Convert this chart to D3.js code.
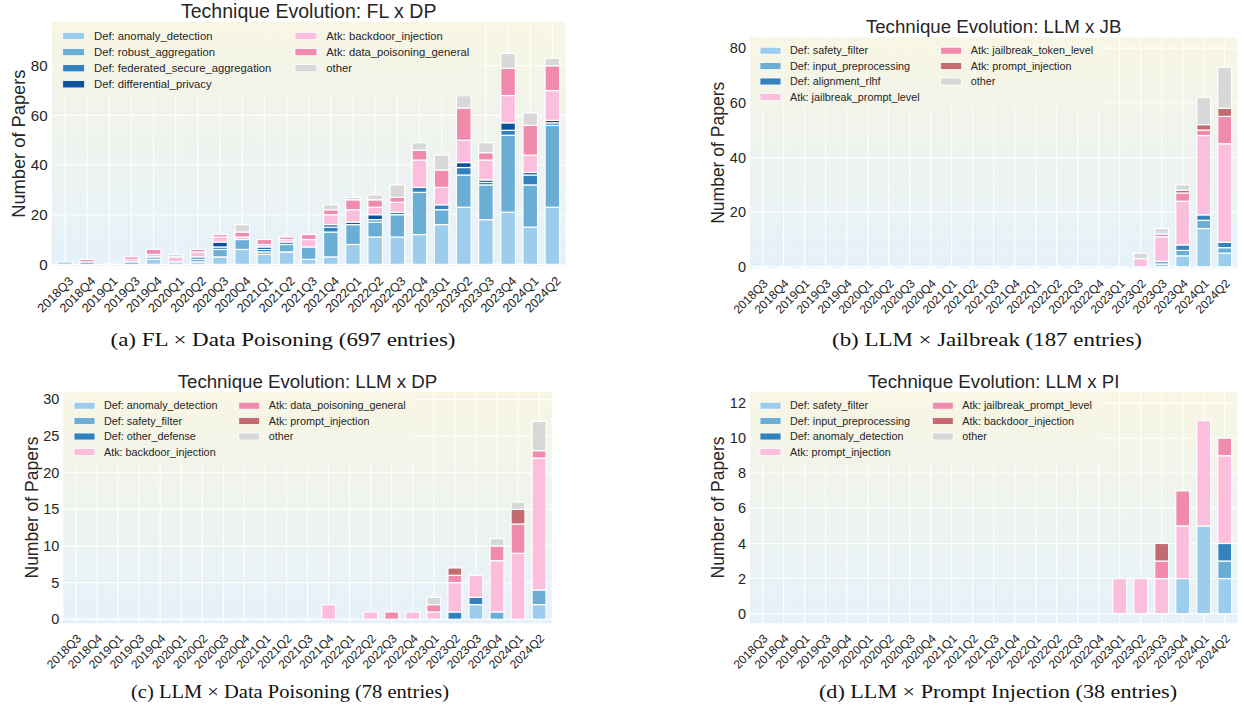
<!DOCTYPE html>
<html>
<head>
<meta charset="utf-8">
<script src="https://cdn.jsdelivr.net/npm/d3@7"></script>
<style>
  body { margin: 0; background: #fff; }
  svg { display: block; }
  text { font-family: "Liberation Sans", Arial, sans-serif; fill: #262626; }
  .cap { font-family: "Liberation Serif", "DejaVu Serif", serif; fill: #111; }
</style>
</head>
<body>
<svg id="fig" width="1244" height="713"></svg>
<script>
// quarters on the x axis (same for every panel)
const quarters = ["2018Q3","2018Q4","2019Q1","2019Q3","2019Q4","2020Q1","2020Q2","2020Q3","2020Q4","2021Q1","2021Q2","2021Q3","2021Q4","2022Q1","2022Q2","2022Q3","2022Q4","2023Q1","2023Q2","2023Q3","2023Q4","2024Q1","2024Q2"];

// (a) FL x DP
const fldpNames = ["Def: anomaly_detection","Def: robust_aggregation","Def: federated_secure_aggregation","Def: differential_privacy","Atk: backdoor_injection","Atk: data_poisoning_general","other"];
const fldpAnomaly  = [1,0,0,0,2,1,1,3,6,4,5,2,3,8,11,11,12,16,23,18,21,15,23];
const fldpRobust   = [0,1,0,1,1,0,1,3,4,1,3,5,10,8,6,9,17,6,13,14,31,17,33];
const fldpFedSec   = [0,0,0,0,0,0,1,1,0,1,1,0,2,0,1,1,2,2,3,1,2,4,1];
const fldpDiffPriv = [0,0,0,0,0,0,0,2,0,1,0,0,1,1,2,0,0,0,2,1,3,1,1];
const fldpBackdoor = [0,0,0,1,1,2,2,2,1,1,1,3,4,5,3,4,11,7,9,8,11,7,12];
const fldpPoison   = [0,1,0,1,2,0,1,1,2,2,1,2,2,4,3,2,4,7,13,3,11,12,10];
const fldpOther    = [0,0,0,0,0,1,0,0,3,0,0,0,2,1,2,5,3,6,5,4,6,5,3];

// (b) LLM x JB
const jbNames = ["Def: safety_filter","Def: input_preprocessing","Def: alignment_rlhf","Atk: jailbreak_prompt_level","Atk: jailbreak_token_level","Atk: prompt_injection","other"];
const jbSafety    = [0,0,0,0,0,0,0,0,0,0,0,0,0,0,0,0,0,0,0,1,4,14,5];
const jbInput     = [0,0,0,0,0,0,0,0,0,0,0,0,0,0,0,0,0,0,0,1,2,3,2];
const jbAlign     = [0,0,0,0,0,0,0,0,0,0,0,0,0,0,0,0,0,0,0,0,2,2,2];
const jbPrompt    = [0,0,0,0,0,0,0,0,0,0,0,0,0,0,0,0,0,0,3,9,16,29,36];
const jbToken     = [0,0,0,0,0,0,0,0,0,0,0,0,0,0,0,0,0,0,0,1,3,2,10];
const jbInjection = [0,0,0,0,0,0,0,0,0,0,0,0,0,0,0,0,0,0,0,0,1,2,3];
const jbOther     = [0,0,0,0,0,0,0,0,0,0,0,0,0,0,0,0,0,0,2,2,2,10,15];

// (c) LLM x DP
const lldpNames = ["Def: anomaly_detection","Def: safety_filter","Def: other_defense","Atk: backdoor_injection","Atk: data_poisoning_general","Atk: prompt_injection","other"];
const lldpAnomaly   = [0,0,0,0,0,0,0,0,0,0,0,0,0,0,0,0,0,0,0,2,0,0,2];
const lldpSafety    = [0,0,0,0,0,0,0,0,0,0,0,0,0,0,0,0,0,0,0,0,1,0,2];
const lldpOtherDef  = [0,0,0,0,0,0,0,0,0,0,0,0,0,0,0,0,0,0,1,1,0,0,0];
const lldpBackdoor  = [0,0,0,0,0,0,0,0,0,0,0,0,2,0,1,0,1,1,4,3,7,9,18];
const lldpPoison    = [0,0,0,0,0,0,0,0,0,0,0,0,0,0,0,1,0,1,1,0,2,4,1];
const lldpInjection = [0,0,0,0,0,0,0,0,0,0,0,0,0,0,0,0,0,0,1,0,0,2,0];
const lldpOther     = [0,0,0,0,0,0,0,0,0,0,0,0,0,0,0,0,0,1,0,0,1,1,4];

// (d) LLM x PI
const piNames = ["Def: safety_filter","Def: input_preprocessing","Def: anomaly_detection","Atk: prompt_injection","Atk: jailbreak_prompt_level","Atk: backdoor_injection","other"];
const piSafety    = [0,0,0,0,0,0,0,0,0,0,0,0,0,0,0,0,0,0,0,0,2,5,2];
const piInput     = [0,0,0,0,0,0,0,0,0,0,0,0,0,0,0,0,0,0,0,0,0,0,1];
const piAnomaly   = [0,0,0,0,0,0,0,0,0,0,0,0,0,0,0,0,0,0,0,0,0,0,1];
const piInjection = [0,0,0,0,0,0,0,0,0,0,0,0,0,0,0,0,0,2,2,2,3,6,5];
const piJailbreak = [0,0,0,0,0,0,0,0,0,0,0,0,0,0,0,0,0,0,0,1,2,0,1];
const piBackdoor  = [0,0,0,0,0,0,0,0,0,0,0,0,0,0,0,0,0,0,0,1,0,0,0];
const piOther     = [0,0,0,0,0,0,0,0,0,0,0,0,0,0,0,0,0,0,0,0,0,0,0];

const yTicksA = [0,20,40,60,80];
const yTicksB = [0,20,40,60,80];
const yTicksC = [0,5,10,15,20,25,30];
const yTicksD = [0,2,4,6,8,10,12];

// colours
const cBlueL = "#9dcdec", cBlueM = "#6aaed6", cBlueD = "#3282bd", cBlueX = "#0a529c";
const cPinkL = "#fbbfdd", cPinkM = "#f08bae", cRose = "#c36b70", cGrey = "#d8d8d8";

const svg = d3.select("#fig");
const defs = svg.append("defs");

function drawPanel(p) {
  const fs = p.fs;
  const n = quarters.length;
  const totals = quarters.map((q, i) => d3.sum(p.values, v => v[i]));
  const yMax = d3.max(totals) * 1.15;

  const x = d3.scaleLinear().domain([-0.6, n - 0.4]).range([p.l, p.r]);
  const y = d3.scaleLinear().domain([-0.55, yMax]).range([p.b, p.t]);
  const bw = (x(1) - x(0)) * 0.66;

  // background gradient
  const gid = "bg_" + p.id;
  const grad = defs.append("linearGradient").attr("id", gid)
    .attr("gradientUnits", "userSpaceOnUse")
    .attr("x1", 0).attr("x2", 0).attr("y1", p.t).attr("y2", p.b);
  grad.append("stop").attr("offset", "0%").attr("stop-color", "#f8f6e3");
  grad.append("stop").attr("offset", "100%").attr("stop-color", "#e5f1fa");

  const g = svg.append("g");
  g.append("rect").attr("x", p.l).attr("y", p.t)
    .attr("width", p.r - p.l).attr("height", p.b - p.t)
    .attr("fill", `url(#${gid})`);

  // grid
  g.append("g").selectAll("line").data(quarters).join("line")
    .attr("x1", (d, i) => x(i)).attr("x2", (d, i) => x(i))
    .attr("y1", p.t).attr("y2", p.b)
    .attr("stroke", "#fff").attr("stroke-width", 1.1);
  g.append("g").selectAll("line").data(p.ticks).join("line")
    .attr("x1", p.l).attr("x2", p.r)
    .attr("y1", d => y(d)).attr("y2", d => y(d))
    .attr("stroke", "#fff").attr("stroke-width", 1.1);

  // stacked bars
  const rows = quarters.map((q, i) => {
    const o = { q: q, i: i };
    p.values.forEach((v, k) => { o["s" + k] = v[i]; });
    return o;
  });
  const keys = p.values.map((v, k) => "s" + k);
  const stacked = d3.stack().keys(keys)(rows);

  // zero-height edges at the baseline
  g.append("g").selectAll("line").data(rows).join("line")
    .attr("x1", d => x(d.i) - bw / 2).attr("x2", d => x(d.i) + bw / 2)
    .attr("y1", y(0)).attr("y2", y(0))
    .attr("stroke", "#fff").attr("stroke-width", 1.5);

  g.append("g").selectAll("g").data(stacked).join("g")
    .attr("fill", (d, k) => p.colors[k])
    .selectAll("rect").data(d => d.filter(s => s[1] - s[0] > 0)).join("rect")
    .attr("x", d => x(d.data.i) - bw / 2)
    .attr("width", bw)
    .attr("y", d => y(d[1]))
    .attr("height", d => y(d[0]) - y(d[1]))
    .attr("stroke", "#fff").attr("stroke-width", 1.2);

  // y ticks
  g.append("g").selectAll("text").data(p.ticks).join("text")
    .attr("x", p.l - 4).attr("y", d => y(d))
    .attr("dy", "0.35em").attr("text-anchor", "end")
    .attr("font-size", 14.5 * fs).text(d => d);

  // x ticks, rotated 45 degrees
  g.append("g").selectAll("text").data(quarters).join("text")
    .attr("transform", (d, i) => `translate(${x(i) + 3 + p.xo},${p.b + 13})  rotate(-45)`)
    .attr("dy", "0.35em").attr("text-anchor", "end")
    .attr("font-size", 12 * fs).text(d => d);

  // title and y label
  g.append("text").attr("x", (p.l + p.r) / 2).attr("y", p.t - 4)
    .attr("text-anchor", "middle").attr("font-size", 18.7 * fs).text(p.title);
  g.append("text")
    .attr("transform", `translate(${p.yl},${(p.t + p.b) / 2}) rotate(-90)`)
    .attr("text-anchor", "middle").attr("font-size", 17.5 * fs).text("Number of Papers");

  // legend (two columns, column-major)
  const lg = g.append("g");
  const bg = lg.append("rect");
  const rowH = 15.4 * fs;
  p.names.forEach((name, k) => {
    const col = k < 4 ? 0 : 1;
    const row = k < 4 ? k : k - 4;
    const lx = col === 0 ? p.lx1 : p.lx2;
    const ly = p.ly + row * rowH;
    lg.append("rect").attr("x", lx).attr("y", ly - 3.5 * fs)
      .attr("width", 21 * fs).attr("height", 7 * fs)
      .attr("fill", p.colors[k]).attr("stroke", "#fff").attr("stroke-width", 0.8);
    lg.append("text").attr("x", lx + 30 * fs).attr("y", ly)
      .attr("dy", "0.35em").attr("font-size", 10.8 * fs).text(name);
  });
  const bb = lg.node().getBBox();
  bg.attr("x", bb.x - 8).attr("y", bb.y - 6)
    .attr("width", bb.width + 16).attr("height", bb.height + 12)
    .attr("rx", 3).attr("fill", `url(#${gid})`).attr("opacity", 0.85);

  // caption
  svg.append("text").attr("class", "cap")
    .attr("x", p.capX).attr("y", p.capY)
    .attr("text-anchor", "middle").attr("font-size", 18.5)
    .attr("textLength", p.capW).attr("lengthAdjust", "spacingAndGlyphs")
    .text(p.caption);
}

drawPanel({
  id: "a", title: "Technique Evolution: FL x DP", fs: 1.045, xo: 3,
  l: 51.7, r: 565.7, t: 21.7, b: 265.7, yl: 24.5,
  ticks: yTicksA, names: fldpNames,
  values: [fldpAnomaly, fldpRobust, fldpFedSec, fldpDiffPriv, fldpBackdoor, fldpPoison, fldpOther],
  colors: [cBlueL, cBlueM, cBlueD, cBlueX, cPinkL, cPinkM, cGrey],
  lx1: 62.7, lx2: 295, ly: 36,
  caption: "(a) FL \u00d7 Data Poisoning (697 entries)", capX: 283, capY: 346, capW: 345
});
drawPanel({
  id: "b", title: "Technique Evolution: LLM x JB", fs: 1.0, xo: 0,
  l: 750, r: 1237.3, t: 37.3, b: 268.3, yl: 724,
  ticks: yTicksB, names: jbNames,
  values: [jbSafety, jbInput, jbAlign, jbPrompt, jbToken, jbInjection, jbOther],
  colors: [cBlueL, cBlueM, cBlueD, cPinkL, cPinkM, cRose, cGrey],
  lx1: 760, lx2: 940.7, ly: 50.7,
  caption: "(b) LLM \u00d7 Jailbreak (187 entries)", capX: 987, capY: 346, capW: 310
});
drawPanel({
  id: "c", title: "Technique Evolution: LLM x DP", fs: 1.0, xo: 0,
  l: 63.3, r: 551.7, t: 391.7, b: 623.3, yl: 38,
  ticks: yTicksC, names: lldpNames,
  values: [lldpAnomaly, lldpSafety, lldpOtherDef, lldpBackdoor, lldpPoison, lldpInjection, lldpOther],
  colors: [cBlueL, cBlueM, cBlueD, cPinkL, cPinkM, cRose, cGrey],
  lx1: 74, lx2: 238.7, ly: 405.7,
  caption: "(c) LLM \u00d7 Data Poisoning (78 entries)", capX: 290, capY: 698, capW: 318
});
drawPanel({
  id: "d", title: "Technique Evolution: LLM x PI", fs: 1.0, xo: 0,
  l: 750, r: 1237.3, t: 391.7, b: 623.3, yl: 724,
  ticks: yTicksD, names: piNames,
  values: [piSafety, piInput, piAnomaly, piInjection, piJailbreak, piBackdoor, piOther],
  colors: [cBlueL, cBlueM, cBlueD, cPinkL, cPinkM, cRose, cGrey],
  lx1: 760, lx2: 932.3, ly: 405.7,
  caption: "(d) LLM \u00d7 Prompt Injection (38 entries)", capX: 998, capY: 698, capW: 358
});
</script>
</body>
</html>
